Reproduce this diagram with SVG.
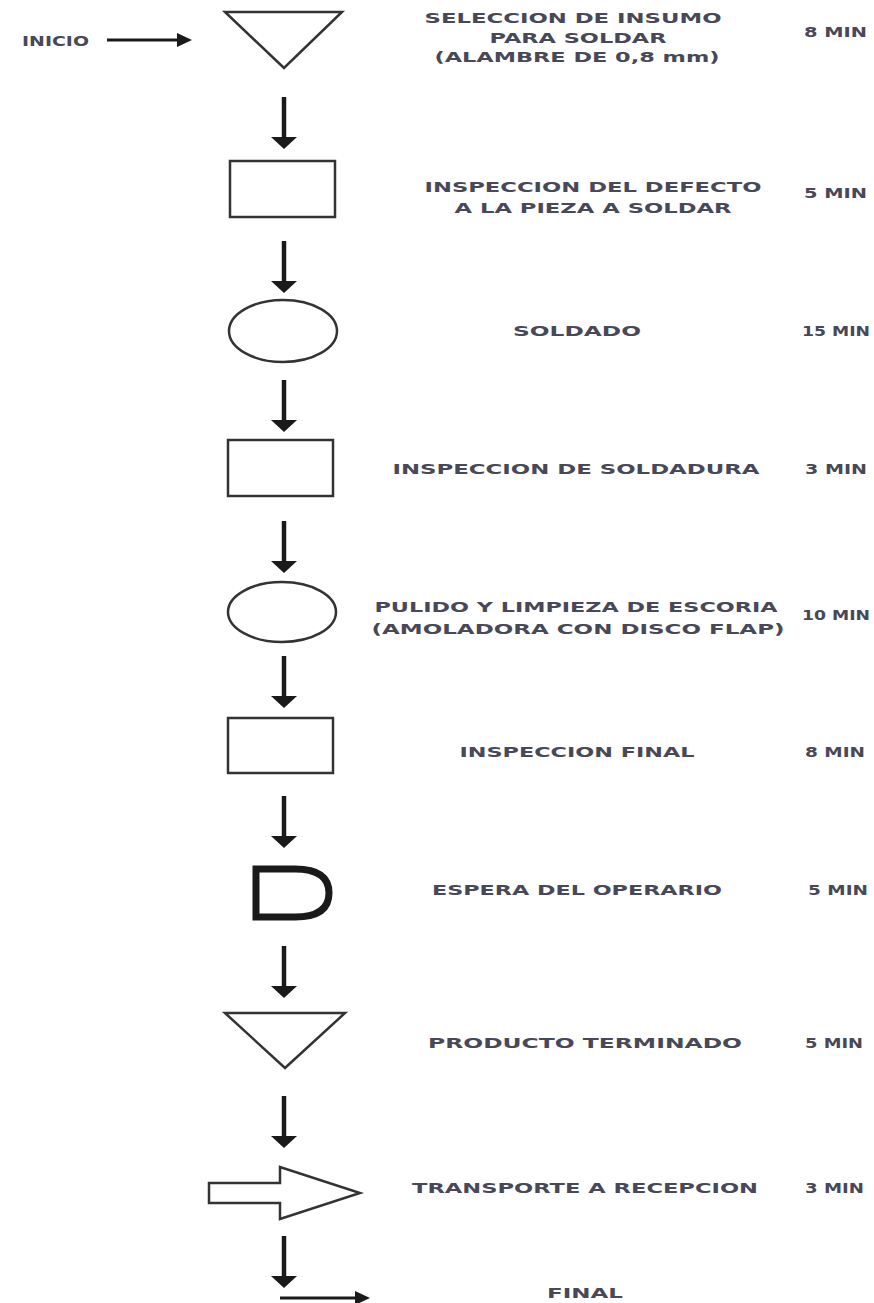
<svg xmlns="http://www.w3.org/2000/svg" width="874" height="1303" viewBox="0 0 874 1303">
<style>
.t{font-family:"DejaVu Sans","Liberation Sans",sans-serif;font-weight:bold;font-size:14.5px;fill:#484858}
.s{fill:#fff;stroke:#333;stroke-width:2.5}
.c{stroke:#1a1a1a;stroke-width:4.5;fill:none}
.h{fill:#1a1a1a}
</style>
<defs>
<g id="down"><line class="c" x1="0" y1="0" x2="0" y2="42"/><polygon class="h" points="-13,40 13,40 0,52"/></g>
</defs>
<rect width="874" height="1303" fill="#fff"/>
<g id="connectors">
<line x1="107" y1="40" x2="180" y2="40" stroke="#1a1a1a" stroke-width="3"/>
<polygon class="h" points="177,33 192,40 177,47"/>
<use href="#down" x="284" y="97"/>
<use href="#down" x="284" y="241"/>
<use href="#down" x="284" y="380"/>
<use href="#down" x="284" y="521"/>
<use href="#down" x="284" y="656"/>
<use href="#down" x="284" y="796"/>
<use href="#down" x="284" y="946"/>
<use href="#down" x="284" y="1096"/>
<use href="#down" x="284" y="1236"/>
<line x1="280" y1="1298" x2="358" y2="1298" stroke="#1a1a1a" stroke-width="3"/>
<polygon class="h" points="355,1291 370,1298 355,1305"/>
</g>
<g id="inicio"><text class="t" x="22" y="46" textLength="67" lengthAdjust="spacingAndGlyphs">INICIO</text></g>
<g id="n1">
<polygon class="s" points="225,12 342,12 284,68"/>
<text class="t" x="573" y="23" text-anchor="middle" textLength="297" lengthAdjust="spacingAndGlyphs">SELECCION DE INSUMO</text>
<text class="t" x="578" y="43" text-anchor="middle" textLength="177" lengthAdjust="spacingAndGlyphs">PARA SOLDAR</text>
<text class="t" x="577" y="62" text-anchor="middle" textLength="285" lengthAdjust="spacingAndGlyphs">(ALAMBRE DE 0,8 mm)</text>
<text class="t" x="804" y="37" textLength="63" lengthAdjust="spacingAndGlyphs">8 MIN</text>
</g>
<g id="n2">
<rect class="s" x="230" y="161" width="105" height="56"/>
<text class="t" x="593" y="192" text-anchor="middle" textLength="337" lengthAdjust="spacingAndGlyphs">INSPECCION DEL DEFECTO</text>
<text class="t" x="593" y="213" text-anchor="middle" textLength="277" lengthAdjust="spacingAndGlyphs">A LA PIEZA A SOLDAR</text>
<text class="t" x="804" y="198" textLength="63" lengthAdjust="spacingAndGlyphs">5 MIN</text>
</g>
<g id="n3">
<ellipse class="s" cx="283" cy="331" rx="54" ry="31"/>
<text class="t" x="577" y="336" text-anchor="middle" textLength="128" lengthAdjust="spacingAndGlyphs">SOLDADO</text>
<text class="t" x="802" y="336" textLength="68" lengthAdjust="spacingAndGlyphs">15 MIN</text>
</g>
<g id="n4">
<rect class="s" x="228" y="440" width="105" height="56"/>
<text class="t" x="576" y="474" text-anchor="middle" textLength="367" lengthAdjust="spacingAndGlyphs">INSPECCION DE SOLDADURA</text>
<text class="t" x="805" y="474" textLength="62" lengthAdjust="spacingAndGlyphs">3 MIN</text>
</g>
<g id="n5">
<ellipse class="s" cx="282" cy="612" rx="54" ry="30"/>
<text class="t" x="576" y="612" text-anchor="middle" textLength="403" lengthAdjust="spacingAndGlyphs">PULIDO Y LIMPIEZA DE ESCORIA</text>
<text class="t" x="578" y="634" text-anchor="middle" textLength="413" lengthAdjust="spacingAndGlyphs">(AMOLADORA CON DISCO FLAP)</text>
<text class="t" x="802" y="620" textLength="68" lengthAdjust="spacingAndGlyphs">10 MIN</text>
</g>
<g id="n6">
<rect class="s" x="228" y="718" width="105" height="55"/>
<text class="t" x="577" y="757" text-anchor="middle" textLength="235" lengthAdjust="spacingAndGlyphs">INSPECCION FINAL</text>
<text class="t" x="805" y="757" textLength="60" lengthAdjust="spacingAndGlyphs">8 MIN</text>
</g>
<g id="n7">
<path d="M256,869 L295,869 Q329,869 329,893 Q329,917 295,917 L256,917 Z" fill="#fff" stroke="#1a1a1a" stroke-width="7"/>
<text class="t" x="577" y="895" text-anchor="middle" textLength="290" lengthAdjust="spacingAndGlyphs">ESPERA DEL OPERARIO</text>
<text class="t" x="808" y="895" textLength="60" lengthAdjust="spacingAndGlyphs">5 MIN</text>
</g>
<g id="n8">
<polygon class="s" points="225,1013 345,1013 285,1068"/>
<text class="t" x="585" y="1048" text-anchor="middle" textLength="314" lengthAdjust="spacingAndGlyphs">PRODUCTO TERMINADO</text>
<text class="t" x="805" y="1048" textLength="58" lengthAdjust="spacingAndGlyphs">5 MIN</text>
</g>
<g id="n9">
<polygon class="s" points="209,1183 280,1183 280,1167 360,1193 280,1219 280,1203 209,1203"/>
<text class="t" x="585" y="1193" text-anchor="middle" textLength="346" lengthAdjust="spacingAndGlyphs">TRANSPORTE A RECEPCION</text>
<text class="t" x="805" y="1193" textLength="59" lengthAdjust="spacingAndGlyphs">3 MIN</text>
</g>
<g id="final"><text class="t" x="585" y="1298" text-anchor="middle" textLength="76" lengthAdjust="spacingAndGlyphs">FINAL</text></g>
</svg>
